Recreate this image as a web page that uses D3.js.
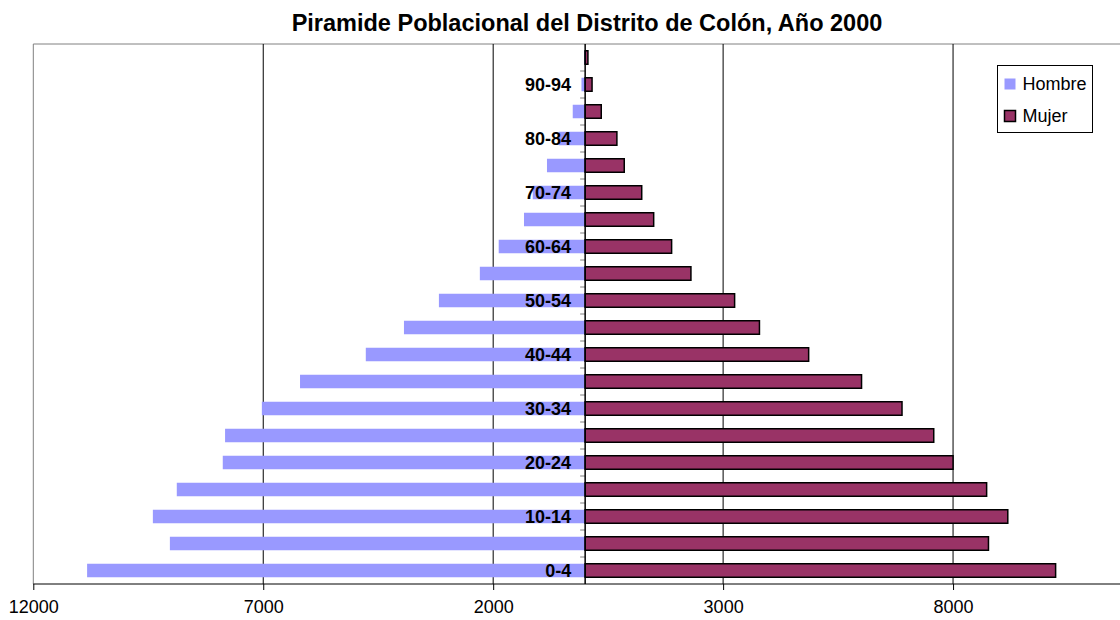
<!DOCTYPE html>
<html>
<head>
<meta charset="utf-8">
<script src="https://cdn.jsdelivr.net/npm/d3@7"></script>
<style>
  body { margin: 0; background: #fff; }
  svg { display: block; font-family: "Liberation Sans", Arial, sans-serif; }
</style>
</head>
<body>
<div id="chart"></div>
<script>
// age groups, bottom to top
var ages = ["0-4", "5-9", "10-14", "15-19", "20-24", "25-29", "30-34", "35-39",
  "40-44", "45-49", "50-54", "55-59", "60-64", "65-69", "70-74", "75-79",
  "80-84", "85-89", "90-94", "95+"];
var hombre = [10830, 9030, 9400, 8880, 7880, 7830, 7030, 6200, 4770, 3940,
  3180, 2290, 1880, 1330, 1140, 830, 570, 270, 80, 25];
var mujer = [10230, 8770, 9190, 8730, 8000, 7580, 6890, 6010, 4860, 3790,
  3250, 2300, 1880, 1490, 1230, 850, 690, 350, 150, 60];
var tickValues = [-12000, -7000, -2000, 3000, 8000];
var series = ["Hombre", "Mujer"];

var width = 1120,
  height = 620;

var plotTop = 44, plotBottom = 584, plotLeft = 33.3, plotRight = 1183;

var data = ages.map(function (a, i) {
  return { age: a, hombre: hombre[i], mujer: mujer[i], i: i };
});

var svg = d3
  .select("#chart")
  .append("svg")
  .attr("width", width)
  .attr("height", height);

svg.append("rect").attr("width", width).attr("height", height).attr("fill", "#fff");

var x = d3.scaleLinear().domain([-12000, 13000]).range([plotLeft, plotRight]);
var y = d3
  .scaleBand()
  .domain(ages.slice().reverse())
  .range([plotTop, plotBottom])
  .paddingInner(0.5)
  .paddingOuter(0.25);

// title
svg
  .append("text")
  .attr("x", 587)
  .attr("y", 31)
  .attr("text-anchor", "middle")
  .style("font-weight", "bold")
  .style("font-size", "23.5px")
  .text("Piramide Poblacional del Distrito de Colón, Año 2000");

// frame (top and left, gray)
svg.append("line").attr("x1", plotLeft).attr("x2", width).attr("y1", plotTop).attr("y2", plotTop)
  .attr("stroke", "#808080");
svg.append("line").attr("x1", plotLeft).attr("x2", plotLeft).attr("y1", plotTop).attr("y2", plotBottom)
  .attr("stroke", "#808080");

// vertical gridlines
svg
  .selectAll(".grid")
  .data(tickValues.slice(1))
  .enter()
  .append("line")
  .attr("class", "grid")
  .attr("x1", d => x(d))
  .attr("x2", d => x(d))
  .attr("y1", plotTop)
  .attr("y2", plotBottom)
  .attr("stroke", "#000");

// bars
svg
  .selectAll(".hombre")
  .data(data)
  .enter()
  .append("rect")
  .attr("class", "hombre")
  .attr("x", d => x(-d.hombre))
  .attr("y", d => y(d.age))
  .attr("width", d => x(0) - x(-d.hombre))
  .attr("height", y.bandwidth())
  .attr("fill", "#9999ff");

svg
  .selectAll(".mujer")
  .data(data)
  .enter()
  .append("rect")
  .attr("class", "mujer")
  .attr("x", x(0))
  .attr("y", d => y(d.age))
  .attr("width", d => x(d.mujer) - x(0))
  .attr("height", y.bandwidth())
  .attr("fill", "#993366")
  .attr("stroke", "#000")
  .attr("stroke-width", 1.5);

// x axis
var xAxis = d3
  .axisBottom(x)
  .tickValues(tickValues)
  .tickSize(6)
  .tickFormat(d => Math.abs(d));

var gx = svg
  .append("g")
  .attr("transform", "translate(0," + plotBottom + ")")
  .call(xAxis);
gx.select(".domain").attr("d", "M" + plotLeft + ",0H" + width).attr("stroke", "#000");
gx.selectAll("text")
  .attr("y", 16)
  .attr("dy", "0.71em")
  .style("font-size", "18px")
  .style("font-family", "'Liberation Sans', Arial, sans-serif")
  .attr("fill", "#000");

// category ticks at band boundaries on the zero axis
var bounds = d3.range(ages.length + 1).map(i => plotTop + i * (plotBottom - plotTop) / ages.length);
svg
  .selectAll(".ytick")
  .data(bounds.slice(1, -1))
  .enter()
  .append("line")
  .attr("class", "ytick")
  .attr("x1", x(0) - 5)
  .attr("x2", x(0))
  .attr("y1", d => d)
  .attr("y2", d => d)
  .attr("stroke", "#808080");

svg.append("line").attr("x1", x(0)).attr("x2", x(0)).attr("y1", plotTop).attr("y2", plotBottom)
  .attr("stroke", "#000").attr("stroke-width", 1.5);

// age labels, every other group
svg
  .selectAll(".agelabel")
  .data(data.filter(d => d.i % 2 == 0))
  .enter()
  .append("text")
  .attr("class", "agelabel")
  .attr("x", x(0) - 14)
  .attr("y", d => y(d.age) + y.bandwidth() / 2)
  .attr("dy", "0.36em")
  .attr("text-anchor", "end")
  .style("font-weight", "bold")
  .style("font-size", "18px")
  .text(d => d.age);

// legend
var legend = svg.append("g").attr("transform", "translate(997.5,65.5)");
legend.append("rect").attr("width", 95).attr("height", 67)
  .attr("fill", "#fff").attr("stroke", "#000");

var colors = { Hombre: "#9999ff", Mujer: "#993366" };
var item = legend
  .selectAll(".item")
  .data(series)
  .enter()
  .append("g")
  .attr("class", "item")
  .attr("transform", (d, i) => "translate(0," + (i * 32) + ")");

item
  .append("rect")
  .attr("x", 7)
  .attr("y", 13)
  .attr("width", 11)
  .attr("height", 11)
  .attr("fill", d => colors[d])
  .attr("stroke", d => d == "Mujer" ? "#000" : "none")
  .attr("stroke-width", 1.5);

item
  .append("text")
  .attr("x", 25)
  .attr("y", 18)
  .attr("dy", "0.36em")
  .style("font-size", "18px")
  .text(d => d);
</script>
</body>
</html>
